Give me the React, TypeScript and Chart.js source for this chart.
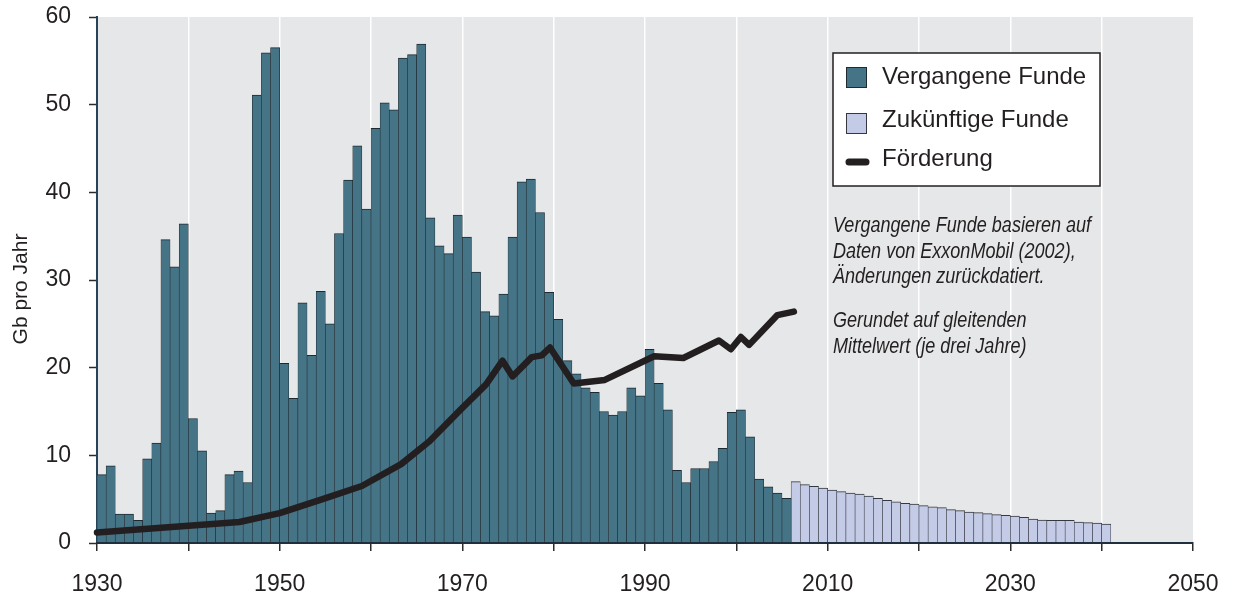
import React, { useEffect, useRef } from "react";
import { Chart, registerables } from "chart.js";

Chart.register(...registerables);

// ---------- data ----------
const pastStartYear = 1930;
const pastValues = [
  7.8, 8.8, 3.3, 3.3, 2.6, 9.6, 11.4, 34.6, 31.5, 36.4,
  14.2, 10.5, 3.4, 3.7, 7.8, 8.2, 6.9, 51.1, 55.9, 56.5,
  20.5, 16.5, 27.4, 21.4, 28.7, 25.0, 35.3, 41.4, 45.3, 38.1,
  47.3, 50.2, 49.4, 55.3, 55.7, 56.9, 37.1, 33.9, 33.0, 37.4,
  34.9, 30.9, 26.4, 25.9, 28.4, 34.9, 41.2, 41.5, 37.7, 28.6,
  25.5, 20.8, 19.3, 17.7, 17.2, 15.0, 14.6, 15.0, 17.7, 16.8,
  22.1, 18.2, 15.2, 8.3, 6.9, 8.5, 8.5, 9.3, 10.8, 14.9,
  15.2, 12.1, 7.3, 6.4, 5.7, 5.1,
];

const futureStartYear = 2006;
const futureValues = [
  7.0, 6.65, 6.46, 6.27, 6.05, 5.86, 5.7, 5.59, 5.36, 5.1,
  4.87, 4.71, 4.52, 4.45, 4.26, 4.14, 4.03, 3.8, 3.69, 3.54,
  3.46, 3.35, 3.23, 3.16, 3.08, 2.93, 2.74, 2.62, 2.59, 2.59,
  2.59, 2.4, 2.32, 2.28, 2.17,
];

const productionYears = [
  1930, 1945.6, 1950, 1954.7, 1959, 1963.3, 1966.4, 1969.7, 1972.6, 1974.4,
  1975.5, 1977.6, 1978.7, 1979.6, 1982.2, 1985.6, 1991.0, 1994.2, 1998.1, 1999.4,
  2000.5, 2001.4, 2004.5, 2006.3,
];
const productionValues = [
  1.2, 2.4, 3.4, 5.0, 6.5, 9.0, 11.6, 15.1, 18.1, 20.8,
  19.0, 21.2, 21.4, 22.3, 18.2, 18.6, 21.3, 21.1, 23.1, 22.1,
  23.5, 22.6, 26.0, 26.4,
];

const xMin = 1930;
const xMax = 2050;
const xStep = 10;
const xLabelEvery = 20;
const yMin = 0;
const yMax = 60;
const yStep = 10;

const seriesLabels = ["Vergangene Funde", "Zukünftige Funde", "Förderung"];
const yTitle = "Gb pro Jahr";
const noteBlock1 = [
  "Vergangene Funde basieren auf",
  "Daten von ExxonMobil (2002),",
  "Änderungen zurückdatiert.",
];
const noteBlock2 = ["Gerundet auf gleitenden", "Mittelwert (je drei Jahre)"];

// ---------- styles ----------
const PAST_FILL = "#457487";
const PAST_BORDER = "#1e2a31";
const FUTURE_FILL = "#c3cbe6";
const FUTURE_BORDER = "#35383f";
const LINE_COLOR = "#231f20";
const TEXT = "#231f20";
const PLOT_BG = "#e6e7e8";
const SANS = '"Liberation Sans", Arial, Helvetica, sans-serif';

function fontAvailable(ctx: CanvasRenderingContext2D, fam: string) {
  const probe = "Vergangene Funde basieren auf";
  ctx.font = "40px monospace";
  const a = ctx.measureText(probe).width;
  ctx.font = `40px "${fam}", monospace`;
  const b = ctx.measureText(probe).width;
  return Math.abs(a - b) > 0.5;
}

const backgroundPlugin = {
  id: "plotBackground",
  beforeDraw(chart: any) {
    const { ctx, chartArea: a } = chart;
    ctx.save();
    ctx.fillStyle = PLOT_BG;
    ctx.fillRect(a.left, a.top, a.right - a.left, a.bottom - a.top);
    ctx.restore();
  },
};

const overlayPlugin = {
  id: "overlayTexts",
  afterDraw(chart: any) {
    const ctx: CanvasRenderingContext2D = chart.ctx;
    ctx.save();

    // y axis title
    ctx.save();
    ctx.translate(27, 289);
    ctx.rotate(-Math.PI / 2);
    ctx.fillStyle = TEXT;
    ctx.textAlign = "center";
    ctx.textBaseline = "alphabetic";
    ctx.font = `21px ${SANS}`;
    ctx.fillText(yTitle, 0, 0);
    ctx.restore();

    // legend box
    const bx = 833, by = 53, bw = 267, bh = 133;
    ctx.fillStyle = "#ffffff";
    ctx.fillRect(bx, by, bw, bh);
    ctx.strokeStyle = "#231f20";
    ctx.lineWidth = 1.5;
    ctx.strokeRect(bx, by, bw, bh);

    ctx.lineWidth = 1;
    ctx.fillStyle = PAST_FILL;
    ctx.fillRect(846.5, 67.5, 20, 20);
    ctx.strokeStyle = PAST_BORDER;
    ctx.strokeRect(846.5, 67.5, 20, 20);

    ctx.fillStyle = FUTURE_FILL;
    ctx.fillRect(846.5, 113.5, 20, 20);
    ctx.strokeStyle = FUTURE_BORDER;
    ctx.strokeRect(846.5, 113.5, 20, 20);

    ctx.strokeStyle = LINE_COLOR;
    ctx.lineWidth = 7;
    ctx.lineCap = "round";
    ctx.beginPath();
    ctx.moveTo(849, 162);
    ctx.lineTo(866, 162);
    ctx.stroke();

    ctx.fillStyle = TEXT;
    ctx.textAlign = "left";
    ctx.textBaseline = "alphabetic";
    ctx.font = `24px ${SANS}`;
    ctx.fillText(seriesLabels[0], 882, 84);
    ctx.fillText(seriesLabels[1], 882, 127);
    ctx.fillText(seriesLabels[2], 882, 166);

    // notes
    const narrow = fontAvailable(ctx, "Liberation Sans Narrow");
    const drawNote = (text: string, y: number) => {
      if (narrow) {
        ctx.font = 'italic 22px "Liberation Sans Narrow", "Arial Narrow"';
        ctx.fillText(text, 833, y);
      } else {
        ctx.save();
        ctx.translate(833, y);
        ctx.scale(0.82, 1);
        ctx.font = `italic 22px ${SANS}`;
        ctx.fillText(text, 0, 0);
        ctx.restore();
      }
    };
    ctx.fillStyle = TEXT;
    noteBlock1.forEach((t, i) => drawNote(t, 232 + i * 25.5));
    noteBlock2.forEach((t, i) => drawNote(t, 327 + i * 25.5));

    ctx.restore();
  },
};

export default function App() {
  const canvasRef = useRef<HTMLCanvasElement | null>(null);

  useEffect(() => {
    if (!canvasRef.current) return;

    const pastData = pastValues.map((v, i) => ({ x: pastStartYear + i + 0.5, y: v }));
    const futureData = futureValues.map((v, i) => ({ x: futureStartYear + i + 0.5, y: v }));
    const prodData = productionYears.map((x, i) => ({ x, y: productionValues[i] }));

    const chart = new Chart(canvasRef.current, {
      type: "bar",
      data: {
        datasets: [
          {
            type: "line",
            label: seriesLabels[2],
            data: prodData,
            borderColor: LINE_COLOR,
            borderWidth: 6.5,
            pointRadius: 0,
            fill: false,
            tension: 0,
            borderCapStyle: "round",
            borderJoinStyle: "round",
            order: 0,
            clip: false,
          } as any,
          {
            type: "bar",
            label: seriesLabels[0],
            data: pastData,
            backgroundColor: PAST_FILL,
            borderColor: PAST_BORDER,
            borderWidth: { top: 1, left: 0.6, right: 0.6, bottom: 0 },
            barThickness: "flex",
            barPercentage: 1,
            categoryPercentage: 1,
            order: 1,
          } as any,
          {
            type: "bar",
            label: seriesLabels[1],
            data: futureData,
            backgroundColor: FUTURE_FILL,
            borderColor: FUTURE_BORDER,
            borderWidth: { top: 1, left: 0.6, right: 0.6, bottom: 0 },
            barThickness: "flex",
            barPercentage: 1,
            categoryPercentage: 1,
            order: 2,
          } as any,
        ],
      },
      options: {
        responsive: false,
        animation: false,
        events: [],
        devicePixelRatio: 1,
        layout: { padding: { left: 0, top: 17, right: 40, bottom: 0 } },
        plugins: {
          legend: { display: false },
          tooltip: { enabled: false },
          title: { display: false },
        },
        scales: {
          x: {
            type: "linear",
            min: xMin,
            max: xMax,
            stacked: true,
            offset: false,
            afterFit: (s: any) => {
              s.height = 56;
              s.paddingLeft = 0;
              s.paddingRight = 0;
            },
            ticks: {
              stepSize: xStep,
              autoSkip: false,
              maxRotation: 0,
              padding: 20,
              color: TEXT,
              font: { family: SANS, size: 23 },
              callback: (v: any) => ((Number(v) - xMin) % xLabelEvery === 0 ? String(v) : ""),
            },
            grid: {
              offset: false,
              display: true,
              drawOnChartArea: true,
              drawTicks: true,
              tickLength: 8,
              tickColor: "#2b2b2b",
              tickWidth: 1.5,
              lineWidth: 1.5,
              color: (c: any) =>
                c.tick && (c.tick.value === xMin || c.tick.value === xMax) ? "rgba(0,0,0,0)" : "#ffffff",
            },
            border: { display: true, color: "#1f2f3d", width: 2, z: 1 },
          } as any,
          y: {
            type: "linear",
            min: yMin,
            max: yMax,
            stacked: false,
            afterFit: (s: any) => {
              s.width = 97;
              s.paddingTop = 0;
              s.paddingBottom = 0;
            },
            ticks: {
              stepSize: yStep,
              padding: 18,
              color: TEXT,
              font: { family: SANS, size: 23 },
            },
            grid: {
              display: true,
              drawOnChartArea: false,
              drawTicks: true,
              tickLength: 8,
              tickColor: "#2b2b2b",
              tickWidth: 1.5,
            },
            border: { display: true, color: "#27435a", width: 2 },
          } as any,
        },
      } as any,
      plugins: [backgroundPlugin, overlayPlugin],
    });

    return () => chart.destroy();
  }, []);

  return (
    <div style={{ position: "fixed", left: 0, top: 0, width: 1233, height: 599, background: "#ffffff" }}>
      <canvas ref={canvasRef} width={1233} height={599} style={{ display: "block", width: 1233, height: 599 }} />
    </div>
  );
}
